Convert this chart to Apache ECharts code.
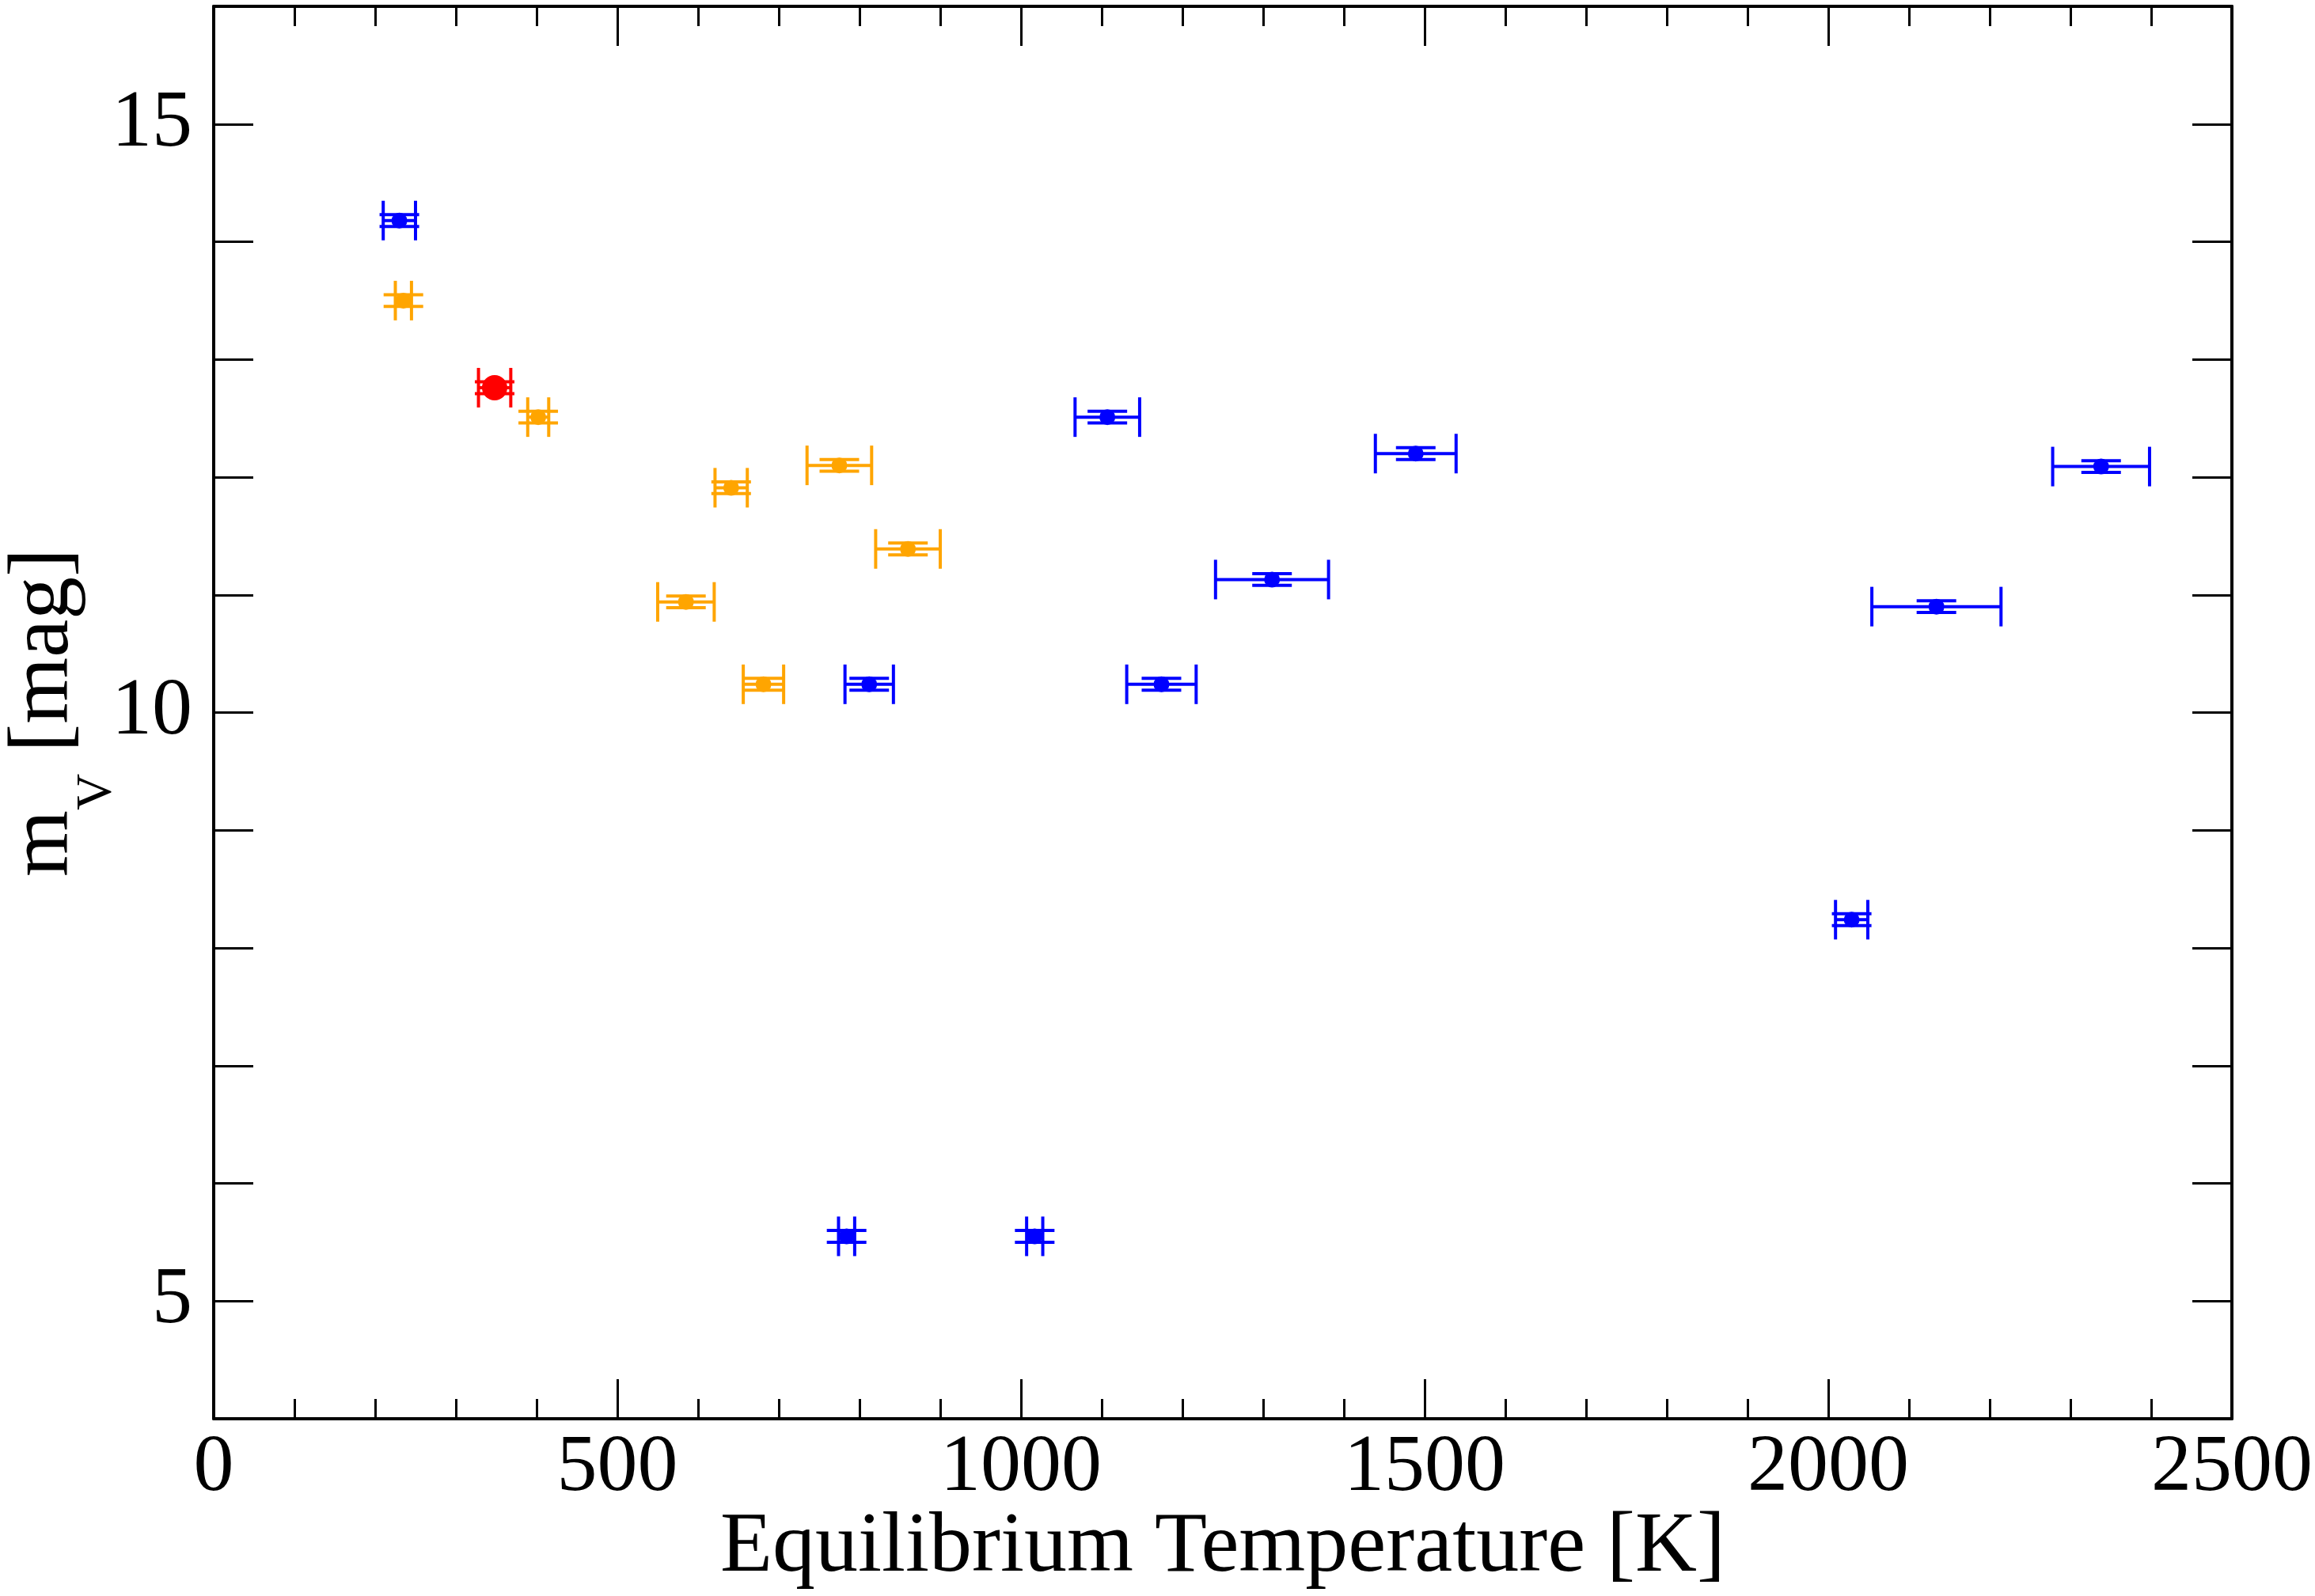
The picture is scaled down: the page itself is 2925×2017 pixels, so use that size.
<!DOCTYPE html>
<html>
<head>
<meta charset="utf-8">
<title>m_V vs equilibrium temperature</title>
<script src="https://cdn.jsdelivr.net/npm/echarts@6/dist/echarts.min.js"></script>
<style>
  html, body { margin: 0; padding: 0; background: #fff; }
  #chart { width: 2925px; height: 2017px; }
</style>
</head>
<body>
<div id="chart"></div>
<script>
// each row: [T_eq (K), T_eq error, m_V (mag), m_V error]
const bluePoints = [
  [230, 20, 14.18, 0.05],
  [812, 30, 10.24, 0.05],
  [1174, 43, 10.24, 0.05],
  [1107, 40, 12.51, 0.05],
  [1311, 70, 11.13, 0.05],
  [1489, 50, 12.20, 0.05],
  [2029, 20, 8.24, 0.05],
  [2134, 80, 10.90, 0.05],
  [2338, 60, 12.09, 0.05],
  [784, 10, 5.55, 0.05],
  [1017, 10, 5.55, 0.05]
];

const orangePoints = [
  [235, 10, 13.50, 0.05],
  [402, 13, 12.51, 0.05],
  [641, 20, 11.91, 0.05],
  [775, 40, 12.10, 0.05],
  [860, 40, 11.39, 0.05],
  [585, 35, 10.94, 0.05],
  [681, 25, 10.24, 0.05]
];

const redPoints = [
  [348, 20, 12.76, 0.05]
];

const xTicks = [0, 500, 1000, 1500, 2000, 2500];
const yTickLabels = [5, 10, 15];

const FONT = 'Liberation Serif';
const CAP = 25;

// error bars in both directions, caps drawn in pixels
function renderErrorBars(params, api) {
  const t = api.value(0);
  const dt = api.value(1);
  const m = api.value(2);
  const dm = api.value(3);
  const left = api.coord([t - dt, m]);
  const right = api.coord([t + dt, m]);
  const lo = api.coord([t, m - dm]);
  const hi = api.coord([t, m + dm]);
  const style = { stroke: api.visual('color'), lineWidth: 4, fill: null };
  const line = (x1, y1, x2, y2) => ({ type: 'line', shape: { x1, y1, x2, y2 }, style });
  return {
    type: 'group',
    children: [
      line(left[0], left[1], right[0], right[1]),
      line(left[0], left[1] - CAP, left[0], left[1] + CAP),
      line(right[0], right[1] - CAP, right[0], right[1] + CAP),
      line(lo[0], lo[1], hi[0], hi[1]),
      line(lo[0] - CAP, lo[1], lo[0] + CAP, lo[1]),
      line(hi[0] - CAP, hi[1], hi[0] + CAP, hi[1])
    ]
  };
}

function errorSeries(data, color) {
  return {
    type: 'custom',
    renderItem: renderErrorBars,
    encode: { x: 0, y: 2 },
    itemStyle: { color },
    data,
    silent: true
  };
}

function markerSeries(data, color, size) {
  return {
    type: 'scatter',
    encode: { x: 0, y: 2 },
    symbol: 'circle',
    symbolSize: size,
    itemStyle: { color, opacity: 1 },
    data,
    silent: true
  };
}

const axisLine = { show: true, onZero: false, lineStyle: { color: '#000', width: 4 } };

function xAxisOf(position, showLabels) {
  return {
    type: 'value',
    position,
    min: 0,
    max: 2500,
    interval: 500,
    axisLine,
    axisTick: { show: true, inside: true, length: 50, lineStyle: { color: '#000', width: 3 } },
    minorTick: { show: true, splitNumber: 5, length: 25, lineStyle: { color: '#000', width: 3 } },
    splitLine: { show: false },
    axisLabel: {
      show: showLabels,
      margin: 12,
      color: '#000',
      fontFamily: FONT,
      fontSize: 102,
      showMinLabel: true,
      showMaxLabel: true,
      formatter: (v) => (xTicks.includes(v) ? String(v) : '')
    }
  };
}

function yAxisOf(position, showLabels) {
  return {
    type: 'value',
    position,
    min: 4,
    max: 16,
    interval: 1,
    axisLine,
    axisTick: { show: true, inside: true, length: 50, lineStyle: { color: '#000', width: 3 } },
    splitLine: { show: false },
    axisLabel: {
      show: showLabels,
      margin: 27,
      color: '#000',
      fontFamily: FONT,
      fontSize: 102,
      formatter: (v) => (yTickLabels.includes(v) ? String(v) : '')
    }
  };
}

const chart = echarts.init(document.getElementById('chart'));

const bottomX = xAxisOf('bottom', true);
bottomX.name = 'Equilibrium Temperature [K]';
bottomX.nameLocation = 'middle';
bottomX.nameGap = 110;
bottomX.nameMoveOverlap = false;
bottomX.nameTextStyle = { fontFamily: FONT, fontSize: 108, color: '#000', lineHeight: 108 };

const leftY = yAxisOf('left', true);
leftY.name = '{m|m}{s|V}{m| [mag]}';
leftY.nameLocation = 'middle';
leftY.nameRotate = 90;
leftY.nameGap = 27;
leftY.nameMoveOverlap = false;
leftY.nameTextStyle = {
  color: '#000',
  fontFamily: FONT,
  fontSize: 108,
  rich: {
    m: { fontFamily: FONT, fontSize: 108, lineHeight: 112, verticalAlign: 'top', color: '#000' },
    s: { fontFamily: FONT, fontSize: 64, lineHeight: 240, verticalAlign: 'middle', color: '#000' }
  }
};

chart.setOption({
  backgroundColor: '#fff',
  animation: false,
  grid: { left: 270, right: 105, top: 8, bottom: 224, containLabel: false, outerBoundsMode: 'none' },
  xAxis: [bottomX, xAxisOf('top', false)],
  yAxis: [leftY, yAxisOf('right', false)],
  series: [
    errorSeries(orangePoints, '#ffa500'),
    errorSeries(bluePoints, '#0000ff'),
    markerSeries(orangePoints, '#ffa500', 20),
    markerSeries(bluePoints, '#0000ff', 20),
    errorSeries(redPoints, '#ff0000'),
    markerSeries(redPoints, '#ff0000', 32)
  ]
});
</script>
</body>
</html>
